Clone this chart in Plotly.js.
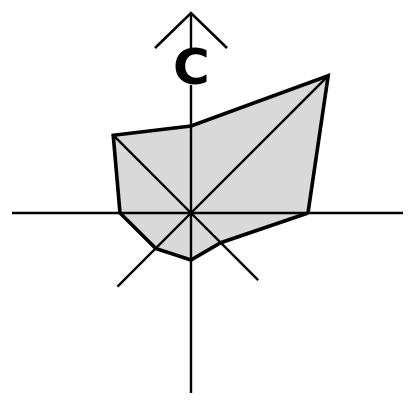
<!DOCTYPE html>
<html>
<head>
<meta charset="utf-8">
<script src="https://cdn.plot.ly/plotly-3.0.1.min.js"></script>
<style>
  html, body { margin: 0; padding: 0; background: #fff; }
  #plot { width: 409px; height: 406px; }
</style>
</head>
<body>
<div id="plot"></div>
<script>
// star glyph: one value per spoke, counter-clockwise from east
var spokeAngles = [0, 45, 90, 135, 180, 225, 270, 315];
var profile     = [117, 194, 87, 110, 71, 50, 47, 42];
var spokeReach  = [212, 194, 200, 110, 179, 104, 180, 95];
var glyphLabel  = 'C';
var labelHeight = 146.5;   // position of the label on the north spoke

function polar(r, deg) {
    var a = deg * Math.PI / 180;
    return [r * Math.cos(a), r * Math.sin(a)];
}

// polygon
var px = [], py = [];
for (var i = 0; i < profile.length; i++) {
    var p = polar(profile[i], spokeAngles[i]);
    px.push(p[0]); py.push(p[1]);
}
px.push(px[0]); py.push(py[0]);

// spokes, north spoke broken where the label sits
var fontSize = 50;
var gap = fontSize * 0.37;
var sx = [], sy = [];
for (var i = 0; i < spokeAngles.length; i++) {
    var end = polar(spokeReach[i], spokeAngles[i]);
    if (spokeAngles[i] === 90) {
        sx.push(0, 0, null, 0, 0, null);
        sy.push(0, labelHeight - gap, null, labelHeight + gap, spokeReach[i], null);
    } else {
        sx.push(0, end[0], null);
        sy.push(0, end[1], null);
    }
}

// arrow head on top of the north spoke
var northTop = spokeReach[spokeAngles.indexOf(90)];
var head = 36;
var ax = [-head, 0, head];
var ay = [northTop - head + 1, northTop, northTop - head + 1];

var traces = [
    { x: px, y: py, type: 'scatter', mode: 'lines', fill: 'toself',
      fillcolor: '#d9d9d9', line: { width: 0, color: 'rgba(0,0,0,0)' }, hoverinfo: 'skip' },
    { x: sx, y: sy, type: 'scatter', mode: 'lines', connectgaps: false,
      line: { width: 2.4, color: '#000' }, hoverinfo: 'skip' },
    { x: ax, y: ay, type: 'scatter', mode: 'lines',
      line: { width: 2.6, color: '#000' }, hoverinfo: 'skip' },
    { x: px, y: py, type: 'scatter', mode: 'lines',
      line: { width: 3.6, color: '#000' }, hoverinfo: 'skip' }
];

var layout = {
    width: 409,
    height: 406,
    margin: { l: 0, r: 0, t: 0, b: 0 },
    paper_bgcolor: '#fff',
    plot_bgcolor: '#fff',
    showlegend: false,
    xaxis: { range: [-191, 218], visible: false, fixedrange: true },
    yaxis: { range: [-193, 213], visible: false, fixedrange: true },
    annotations: [{
        x: 0, y: labelHeight, xref: 'x', yref: 'y',
        text: glyphLabel, showarrow: false,
        font: { family: 'DejaVu Sans, sans-serif', size: fontSize, color: '#000', weight: 'bold' }
    }]
};

Plotly.newPlot('plot', traces, layout, { staticPlot: true });
</script>
</body>
</html>
